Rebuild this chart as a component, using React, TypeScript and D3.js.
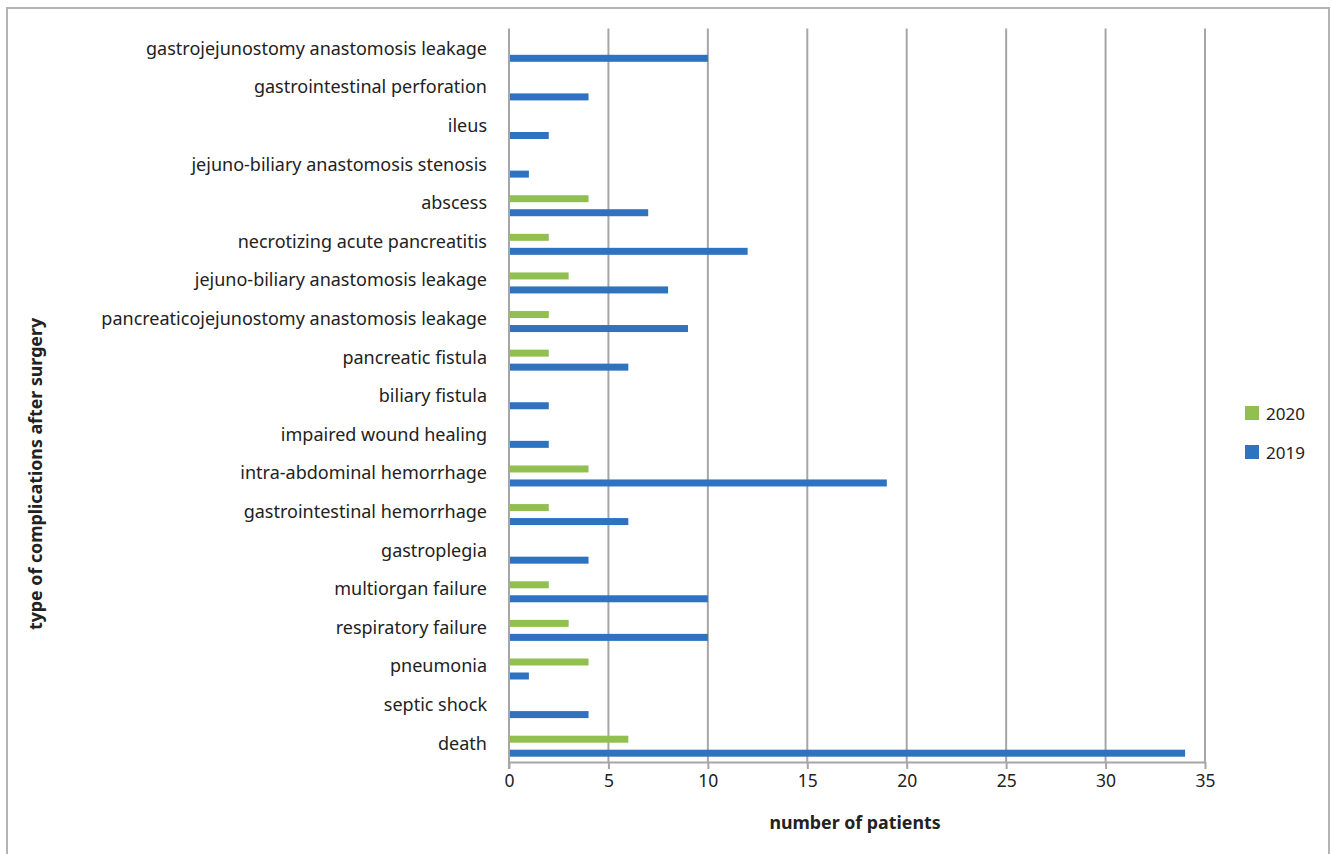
import React, { useEffect, useRef } from 'react';
import * as d3 from 'd3';

// categories top to bottom
const categories = [
  'gastrojejunostomy anastomosis leakage',
  'gastrointestinal perforation',
  'ileus',
  'jejuno-biliary anastomosis stenosis',
  'abscess',
  'necrotizing acute pancreatitis',
  'jejuno-biliary anastomosis leakage',
  'pancreaticojejunostomy anastomosis leakage',
  'pancreatic fistula',
  'biliary fistula',
  'impaired wound healing',
  'intra-abdominal hemorrhage',
  'gastrointestinal hemorrhage',
  'gastroplegia',
  'multiorgan failure',
  'respiratory failure',
  'pneumonia',
  'septic shock',
  'death',
];

const values2020 = [0, 0, 0, 0, 4, 2, 3, 2, 2, 0, 0, 4, 2, 0, 2, 3, 4, 0, 6];
const values2019 = [10, 4, 2, 1, 7, 12, 8, 9, 6, 2, 2, 19, 6, 4, 10, 10, 1, 4, 34];

const xTicks = [0, 5, 10, 15, 20, 25, 30, 35];

const series = [
  { name: '2020', values: values2020, color: '#92c050', offset: -3.5 },
  { name: '2019', values: values2019, color: '#2f72c0', offset: 10.5 },
];

const WIDTH = 1331;
const HEIGHT = 854;
const FONT = "'Noto Sans', sans-serif";

const App: React.FC = () => {
  const svgRef = useRef<SVGSVGElement | null>(null);

  useEffect(() => {
    if (!svgRef.current) return;
    const svg = d3.select(svgRef.current);
    svg.selectAll('*').remove();

    // outer frame
    svg.append('rect')
      .attr('x', 7)
      .attr('y', 8)
      .attr('width', 1322)
      .attr('height', 860)
      .attr('fill', 'white')
      .attr('stroke', '#b4b4b4')
      .attr('stroke-width', 2);

    const left = 509;
    const right = 1205;
    const top = 28.5;
    const bottom = 762;

    const x = d3.scaleLinear().domain([0, 35]).range([left, right]);
    const y = d3.scaleBand<string>().domain(categories).range([top, bottom]);

    // gridlines
    svg.append('g')
      .selectAll('line')
      .data(xTicks.slice(1))
      .enter()
      .append('line')
      .attr('x1', d => x(d))
      .attr('x2', d => x(d))
      .attr('y1', top)
      .attr('y2', bottom)
      .attr('stroke', '#a6a6a6')
      .attr('stroke-width', 2);

    // bars
    series.forEach(s => {
      svg.append('g')
        .selectAll('rect')
        .data(categories.map((c, i) => ({ c, v: s.values[i] })).filter(d => d.v > 0))
        .enter()
        .append('rect')
        .attr('x', x(0))
        .attr('y', d => (y(d.c) || 0) + y.bandwidth() / 2 + s.offset - 3.5)
        .attr('width', d => x(d.v) - x(0))
        .attr('height', 7)
        .attr('fill', s.color);
    });

    // y axis line
    svg.append('line')
      .attr('x1', left).attr('x2', left)
      .attr('y1', top).attr('y2', bottom + 7)
      .attr('stroke', '#a6a6a6').attr('stroke-width', 2);

    // x axis
    const xAxis = svg.append('g')
      .attr('transform', `translate(0,${bottom})`)
      .call(d3.axisBottom(x).tickValues(xTicks).tickSize(7).tickSizeOuter(0).tickPadding(6));
    xAxis.select('.domain').attr('stroke', '#a6a6a6').attr('stroke-width', 2);
    xAxis.selectAll('.tick line').attr('stroke', '#a6a6a6').attr('stroke-width', 2);
    xAxis.selectAll('.tick text')
      .attr('fill', '#222')
      .style('font-family', FONT)
      .style('font-size', '17.5px');

    // category labels
    svg.append('g')
      .selectAll('text')
      .data(categories)
      .enter()
      .append('text')
      .attr('x', 487)
      .attr('y', d => (y(d) || 0) + y.bandwidth() / 2)
      .attr('text-anchor', 'end')
      .attr('dominant-baseline', 'central')
      .attr('fill', '#222')
      .style('font-family', FONT)
      .style('font-size', '18px')
      .text(d => d);

    // axis titles
    svg.append('text')
      .attr('x', 855)
      .attr('y', 822)
      .attr('text-anchor', 'middle')
      .attr('dominant-baseline', 'central')
      .attr('fill', '#222')
      .style('font-family', FONT)
      .style('font-size', '17.8px')
      .style('font-weight', 'bold')
      .text('number of patients');

    svg.append('text')
      .attr('transform', 'translate(35,474) rotate(-90)')
      .attr('text-anchor', 'middle')
      .attr('dominant-baseline', 'central')
      .attr('fill', '#222')
      .style('font-family', FONT)
      .style('font-size', '17.8px')
      .style('font-weight', 'bold')
      .text('type of complications after surgery');

    // legend
    const legend = svg.append('g')
      .selectAll('g')
      .data(series)
      .enter()
      .append('g')
      .attr('transform', (_, i) => `translate(1245,${406 + i * 39})`);
    legend.append('rect')
      .attr('width', 14)
      .attr('height', 14)
      .attr('fill', d => d.color);
    legend.append('text')
      .attr('x', 21)
      .attr('y', 7)
      .attr('dominant-baseline', 'central')
      .attr('fill', '#222')
      .style('font-family', FONT)
      .style('font-size', '17px')
      .text(d => d.name);
  }, []);

  return (
    <svg
      ref={svgRef}
      width={WIDTH}
      height={HEIGHT}
      style={{ position: 'absolute', left: 0, top: 0, background: 'white' }}
    />
  );
};

export default App;
